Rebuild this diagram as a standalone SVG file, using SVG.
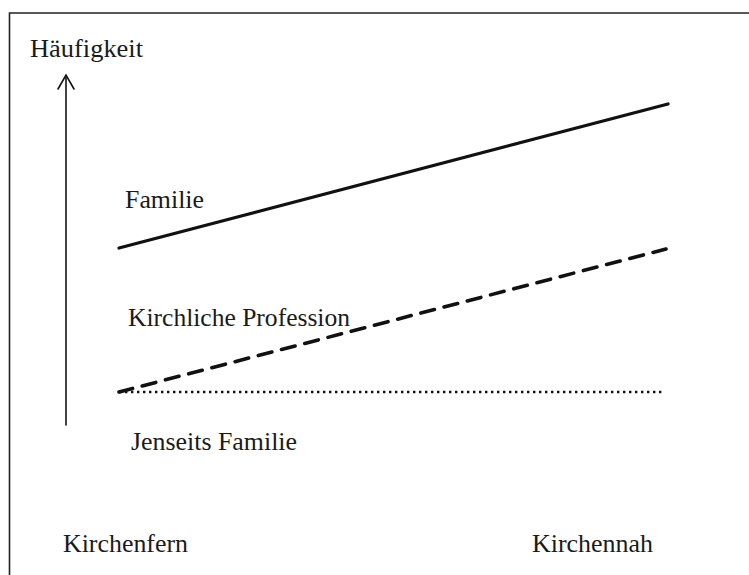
<svg xmlns="http://www.w3.org/2000/svg" width="749" height="575" viewBox="0 0 749 575">
<style>
text{font-family:"Liberation Serif","Times New Roman",serif;font-size:26px;fill:#1a1a1a}
.ln{fill:none;stroke:#111;stroke-linecap:round}
</style>
<rect x="0" y="0" width="749" height="575" fill="#fff"/>
<path d="M9.5,580 V13 H760" fill="none" stroke="#222" stroke-width="1.6"/>
<g id="axis">
<line class="ln" x1="66" y1="425" x2="66" y2="76" stroke-width="1.6"/>
<polyline class="ln" points="58,89 66,75 74,89" stroke-width="1.6"/>
<text x="30" y="57" textLength="113" lengthAdjust="spacingAndGlyphs">Häufigkeit</text>
</g>
<g id="connectors">
<line id="familie-line" class="ln" x1="119" y1="248" x2="668" y2="104" stroke-width="3.2"/>
<line id="profession-line" class="ln" x1="119" y1="392" x2="666" y2="249" stroke-width="3.6" stroke-linecap="butt" stroke-dasharray="14 10"/>
<line id="jenseits-line" x1="119" y1="392" x2="664" y2="392" stroke="#111" stroke-width="2.4" stroke-dasharray="2.4 3.6"/>
</g>
<g id="familie"><text x="125" y="208" textLength="79" lengthAdjust="spacingAndGlyphs">Familie</text></g>
<g id="profession"><text x="128" y="326" textLength="222" lengthAdjust="spacingAndGlyphs">Kirchliche Profession</text></g>
<g id="jenseits"><text x="131" y="450" textLength="166" lengthAdjust="spacingAndGlyphs">Jenseits Familie</text></g>
<g id="kirchenfern"><text x="63" y="552" textLength="125" lengthAdjust="spacingAndGlyphs">Kirchenfern</text></g>
<g id="kirchennah"><text x="532" y="552" textLength="121" lengthAdjust="spacingAndGlyphs">Kirchennah</text></g>
</svg>
